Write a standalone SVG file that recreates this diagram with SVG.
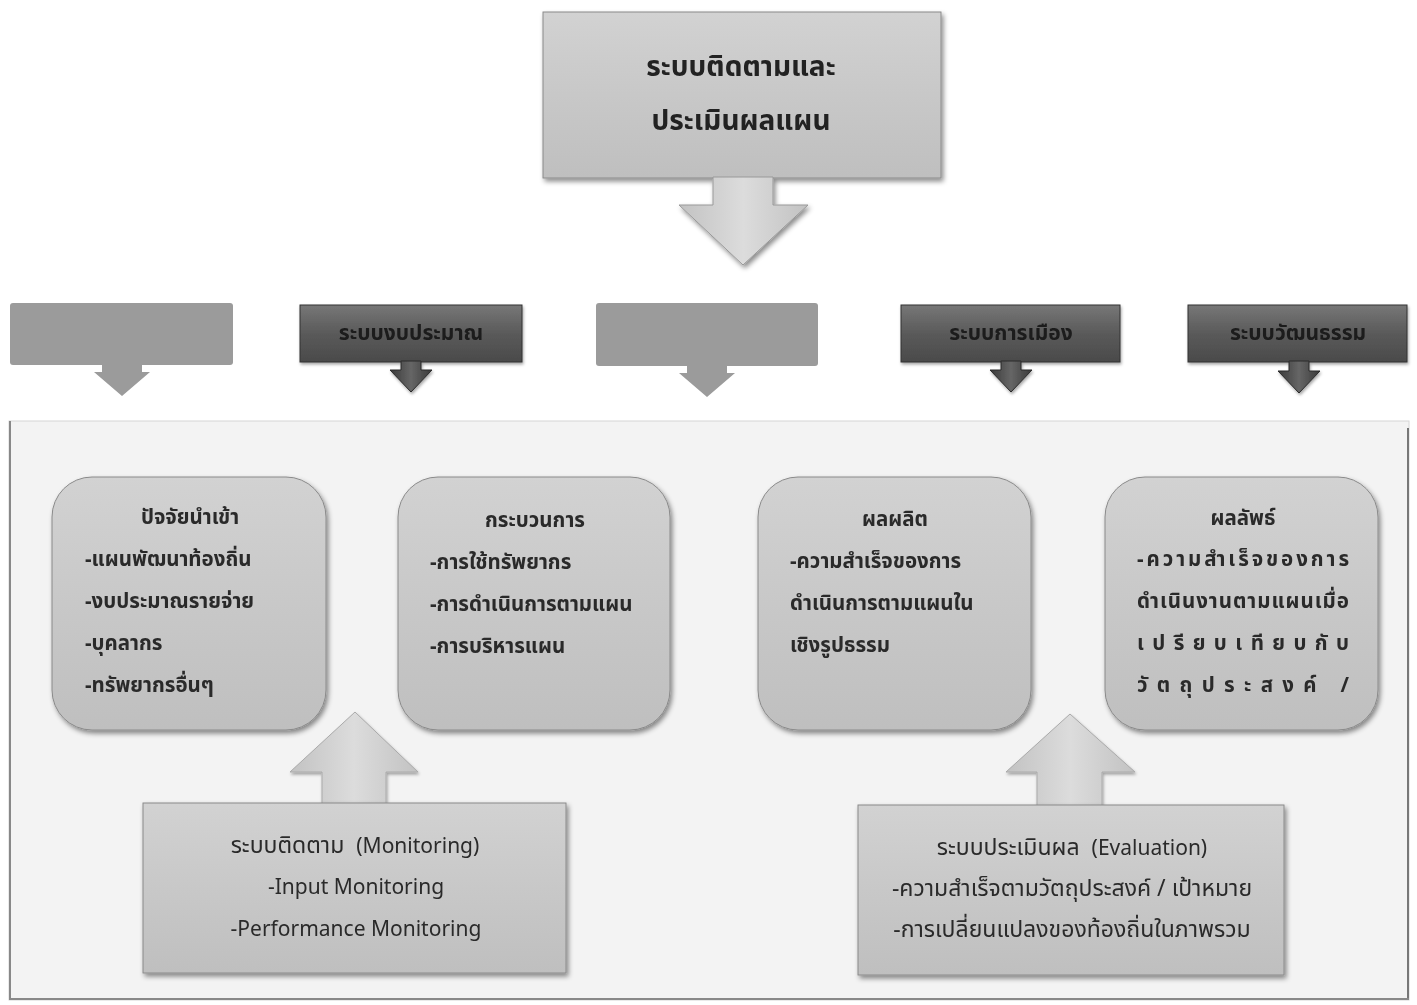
<svg xmlns="http://www.w3.org/2000/svg" width="1417" height="1005" viewBox="0 0 1417 1005">
<defs>
  <linearGradient id="gLight" x1="0" y1="0" x2="0" y2="1">
    <stop offset="0" stop-color="#d2d2d2"/>
    <stop offset="0.5" stop-color="#c8c8c8"/>
    <stop offset="1" stop-color="#bfbfbf"/>
  </linearGradient>
  <linearGradient id="gDark" x1="0" y1="0" x2="0" y2="1">
    <stop offset="0" stop-color="#777777"/>
    <stop offset="0.5" stop-color="#5a5a5a"/>
    <stop offset="1" stop-color="#4a4a4a"/>
  </linearGradient>
  <linearGradient id="gArrowDark" x1="0" y1="0" x2="1" y2="0">
    <stop offset="0" stop-color="#3a3a3a"/>
    <stop offset="0.5" stop-color="#666666"/>
    <stop offset="1" stop-color="#3a3a3a"/>
  </linearGradient>
  <linearGradient id="gArrowLight" x1="0" y1="0" x2="1" y2="0">
    <stop offset="0" stop-color="#c2c2c2"/>
    <stop offset="0.5" stop-color="#dcdcdc"/>
    <stop offset="1" stop-color="#c2c2c2"/>
  </linearGradient>
  <filter id="sh" x="-10%" y="-10%" width="120%" height="130%">
    <feDropShadow dx="2" dy="3" stdDeviation="2.5" flood-color="#000" flood-opacity="0.45"/>
  </filter>
  <filter id="shs" x="-10%" y="-10%" width="120%" height="130%">
    <feDropShadow dx="1" dy="2" stdDeviation="1.5" flood-color="#000" flood-opacity="0.35"/>
  </filter>
</defs>
<style>
  text { font-family: "Noto Sans Thai", "Tahoma", "DejaVu Sans", "Liberation Sans", sans-serif; fill: #222; }
  .title { font-size: 28px; font-weight: bold; text-anchor: middle; }
  .hdr { font-size: 21px; font-weight: bold; text-anchor: middle; fill: #1b1b1b; }
  .body { font-size: 20.5px; font-weight: bold; fill: #2a2a2a; }
  .eng { font-size: 21px; fill: #2a2a2a; }
  .th { font-size: 23px; fill: #2a2a2a; }
  .mid { text-anchor: middle; }
  .light { fill: url(#gLight); stroke: #8a8a8a; stroke-width: 1; }
  .dark { fill: url(#gDark); stroke: #333; stroke-width: 1; }
  .faded { fill: #9b9b9b; }
</style>

<rect x="0" y="0" width="1417" height="1005" fill="#ffffff"/>

<!-- Container panel -->
<g id="panel">
  <rect x="9" y="421" width="1400" height="579" fill="#f3f3f3" stroke="#d6d6d6" stroke-width="1"/>
  <line x1="10" y1="421" x2="10" y2="998" stroke="#888" stroke-width="2"/>
  <line x1="1408" y1="428" x2="1408" y2="998" stroke="#777" stroke-width="2"/>
  <line x1="9" y1="999" x2="1409" y2="999" stroke="#888" stroke-width="2"/>
</g>

<!-- Top node -->
<g id="node-main" filter="url(#sh)">
  <rect class="light" x="543" y="12" width="398" height="166"/>
  <path d="M713,177 L773,177 L773,205 L808,205 L743,265 L679,205 L713,205 Z" fill="url(#gArrowLight)" stroke="#999" stroke-width="1"/>
  <text class="title" x="741" y="76">ระบบติดตามและ</text>
  <text class="title" x="741" y="130">ประเมินผลแผน</text>
</g>

<!-- Row of system boxes -->
<g id="node-sys1">
  <rect class="faded" x="10" y="303" width="223" height="62" rx="3"/>
  <path d="M102,364 L142,364 L142,372 L150,372 L122,396 L94,372 L102,372 Z" class="faded"/>
</g>
<g id="node-budget" filter="url(#shs)">
  <rect class="dark" x="300" y="305" width="222" height="57"/>
  <path d="M401,361 L421,361 L421,370 L432,370 L411,392 L390,370 L401,370 Z" fill="url(#gArrowDark)" stroke="#2a2a2a" stroke-width="1"/>
  <text class="hdr" x="411" y="340">ระบบงบประมาณ</text>
</g>
<g id="node-sys3">
  <rect class="faded" x="596" y="303" width="222" height="63" rx="3"/>
  <path d="M687,365 L727,365 L727,373 L735,373 L707,397 L679,373 L687,373 Z" class="faded"/>
</g>
<g id="node-politics" filter="url(#shs)">
  <rect class="dark" x="901" y="305" width="219" height="57"/>
  <path d="M1001,361 L1021,361 L1021,370 L1032,370 L1011,392 L990,370 L1001,370 Z" fill="url(#gArrowDark)" stroke="#2a2a2a" stroke-width="1"/>
  <text class="hdr" x="1011" y="340">ระบบการเมือง</text>
</g>
<g id="node-culture" filter="url(#shs)">
  <rect class="dark" x="1188" y="305" width="219" height="57"/>
  <path d="M1289,361 L1309,361 L1309,371 L1320,371 L1299,393 L1278,371 L1289,371 Z" fill="url(#gArrowDark)" stroke="#2a2a2a" stroke-width="1"/>
  <text class="hdr" x="1298" y="340">ระบบวัฒนธรรม</text>
</g>

<!-- Rounded content boxes -->
<g id="node-input" filter="url(#sh)">
  <rect class="light" x="52" y="477" width="274" height="253" rx="40"/>
  <text class="body mid" x="190" y="524">ปัจจัยนำเข้า</text>
  <text class="body" x="85" y="566">-แผนพัฒนาท้องถิ่น</text>
  <text class="body" x="85" y="608">-งบประมาณรายจ่าย</text>
  <text class="body" x="85" y="650">-บุคลากร</text>
  <text class="body" x="85" y="692">-ทรัพยากรอื่นๆ</text>
</g>
<g id="node-process" filter="url(#sh)">
  <rect class="light" x="398" y="477" width="272" height="253" rx="40"/>
  <text class="body mid" x="535" y="527">กระบวนการ</text>
  <text class="body" x="430" y="569">-การใช้ทรัพยากร</text>
  <text class="body" x="430" y="611">-การดำเนินการตามแผน</text>
  <text class="body" x="430" y="653">-การบริหารแผน</text>
</g>
<g id="node-output" filter="url(#sh)">
  <rect class="light" x="758" y="477" width="273" height="253" rx="40"/>
  <text class="body mid" x="895" y="526">ผลผลิต</text>
  <text class="body" x="790" y="568">-ความสำเร็จของการ</text>
  <text class="body" x="790" y="610">ดำเนินการตามแผนใน</text>
  <text class="body" x="790" y="652">เชิงรูปธรรม</text>
</g>
<g id="node-outcome" filter="url(#sh)">
  <rect class="light" x="1105" y="477" width="273" height="253" rx="40"/>
  <text class="body mid" x="1243" y="525">ผลลัพธ์</text>
  <text class="body" x="1137" y="566" textLength="212" lengthAdjust="spacing">-ความสำเร็จของการ</text>
  <text class="body" x="1137" y="608" textLength="212" lengthAdjust="spacing">ดำเนินงานตามแผนเมื่อ</text>
  <text class="body" x="1137" y="650" textLength="212" lengthAdjust="spacing">เปรียบเทียบกับ</text>
  <text class="body" x="1137" y="692" textLength="212" lengthAdjust="spacing">วัตถุประสงค์ /</text>
</g>

<!-- Connectors (up arrows) -->
<g id="connectors" filter="url(#shs)">
  <path d="M322,806 L322,772 L290,772 L355,712 L418,772 L386,772 L386,806 Z" fill="url(#gArrowLight)" stroke="#aaa" stroke-width="1"/>
  <path d="M1037,806 L1037,772 L1006,772 L1070,714 L1135,772 L1102,772 L1102,806 Z" fill="url(#gArrowLight)" stroke="#aaa" stroke-width="1"/>
</g>

<!-- Bottom boxes -->
<g id="node-monitoring" filter="url(#sh)">
  <rect class="light" x="143" y="803" width="423" height="170"/>
  <text class="eng mid" x="355" y="853"><tspan class="th">ระบบติดตาม</tspan><tspan dx="12">(Monitoring)</tspan></text>
  <text class="eng mid" x="356" y="894">-Input Monitoring</text>
  <text class="eng mid" x="356" y="936">-Performance Monitoring</text>
</g>
<g id="node-evaluation" filter="url(#sh)">
  <rect class="light" x="858" y="805" width="426" height="170"/>
  <text class="eng mid" x="1072" y="855"><tspan class="th">ระบบประเมินผล</tspan><tspan dx="12">(Evaluation)</tspan></text>
  <text class="th mid" x="1072" y="896">-ความสำเร็จตามวัตถุประสงค์ / เป้าหมาย</text>
  <text class="th mid" x="1072" y="937">-การเปลี่ยนแปลงของท้องถิ่นในภาพรวม</text>
</g>
</svg>
